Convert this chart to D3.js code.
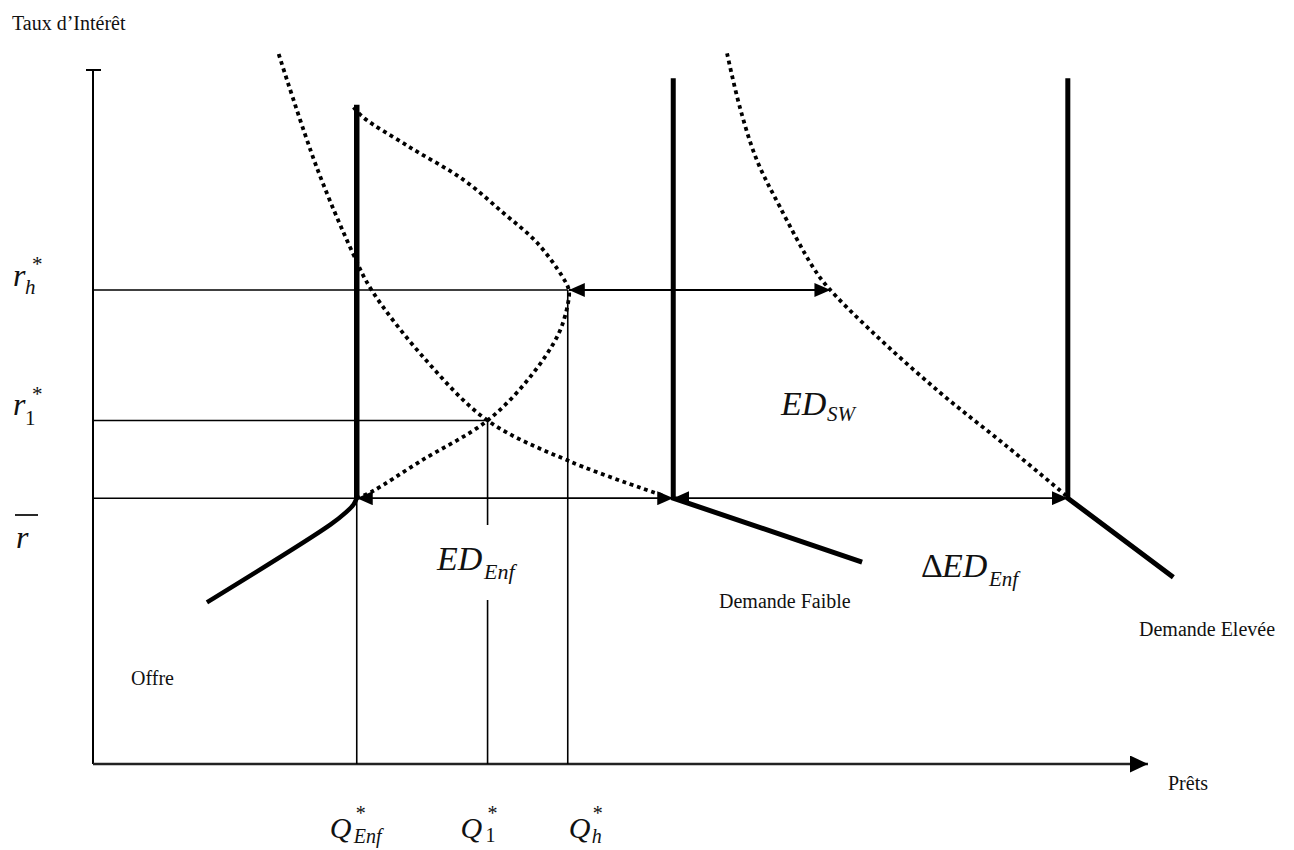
<!DOCTYPE html>
<html>
<head>
<meta charset="utf-8">
<script src="https://cdn.jsdelivr.net/npm/d3@7"></script>
<style>
  html, body { margin: 0; padding: 0; background: #fff; }
  svg { display: block; }
  .lbl { font-family: "Liberation Serif", "Times New Roman", serif; fill: #111; }
  .math { font-family: "Liberation Serif", "Times New Roman", serif; font-style: italic; fill: #111; }
</style>
</head>
<body>
<svg id="chart" width="1294" height="850"></svg>
<script>
// ---- Data (x = loans 0..100, y = interest rate 0..100) ----
const rateLevels = [38.3, 49.5, 68.3];          // r̄, r1*, rh*
const rateLevelEnds = [25.0, 37.4, 45.0];       // where each horizontal guide stops
const qtyLevels = [25.0, 37.4, 45.0];           // Q*Enf, Q1*, Qh*
const qtyLevelTops = [38.3, 49.5, 68.3];        // where each vertical guide starts
const supplyOffre = [[10.8, 23.3], [22.5, 34.5], [24.0, 36.3], [24.7, 37.4], [25.0, 38.3]];
const supplyVertical = [[25.0, 38.3], [25.0, 95.0]];
const demandLow = [[55.0, 98.8], [55.0, 38.3], [72.9, 29.1]];
const demandHigh = [[92.4, 98.8], [92.4, 38.3], [102.4, 26.9]];
const curveLowDemand = [[17.6, 102.3], [21.2, 86.0], [24.6, 73.7], [26.4, 68.3], [31.5, 58.3],
                        [37.4, 49.5], [45.2, 43.6], [54.2, 38.6]];
const curveBackward = [[25.0, 38.3], [26.5, 39.3], [31.0, 43.6], [37.4, 49.5], [41.4, 55.7],
                       [44.1, 61.9], [45.0, 66.2], [45.1, 68.3], [44.5, 70.2], [42.1, 75.1],
                       [38.9, 79.4], [35.1, 84.2], [30.0, 88.9], [25.6, 93.2], [24.5, 95.0]];
const curveHighDemand = [[60.1, 102.4], [61.3, 94.7], [62.9, 87.1], [65.1, 80.3], [68.2, 71.7],
                         [69.6, 68.8], [73.9, 62.2], [80.3, 53.5], [86.6, 45.8], [92.3, 38.6]];
// double-headed arrows: [x0, x1, y]
const arrows = [[45.1, 69.9, 68.3], [25.0, 55.0, 38.3], [55.0, 92.4, 38.3]];
const axisTitles = ["Taux d\u2019Int\u00e9r\u00eat", "Pr\u00eats"];
const curveNames = ["Offre", "Demande Faible", "Demande Elev\u00e9e"];

// ---- Scales ----
const x = d3.scaleLinear().domain([0, 100]).range([93, 1148]);
const y = d3.scaleLinear().domain([0, 100]).range([764, 70]);
const svg = d3.select("#chart");

const defs = svg.append("defs");
defs.append("marker").attr("id", "ah")
  .attr("markerUnits", "userSpaceOnUse")
  .attr("viewBox", "0 0 16 14").attr("refX", 16).attr("refY", 7)
  .attr("markerWidth", 16).attr("markerHeight", 14)
  .attr("orient", "auto-start-reverse")
  .append("path").attr("d", "M0,0 L16,7 L0,14 Z").attr("fill", "#000");
defs.append("marker").attr("id", "axh")
  .attr("markerUnits", "userSpaceOnUse")
  .attr("viewBox", "0 0 18 17").attr("refX", 18).attr("refY", 8.5)
  .attr("markerWidth", 18).attr("markerHeight", 17)
  .attr("orient", "auto")
  .append("path").attr("d", "M0,0 L18,8.5 L0,17 Z").attr("fill", "#000");

const line = d3.line().x(d => x(d[0])).y(d => y(d[1]));
const smooth = d3.line().x(d => x(d[0])).y(d => y(d[1])).curve(d3.curveCatmullRom.alpha(0.5));

// ---- Axes ----
svg.append("line").attr("x1", x(0)).attr("x2", x(0)).attr("y1", y(100)).attr("y2", y(0))
  .attr("stroke", "#000").attr("stroke-width", 2);
svg.append("line").attr("x1", x(0) - 7).attr("x2", x(0) + 8).attr("y1", y(100)).attr("y2", y(100))
  .attr("stroke", "#000").attr("stroke-width", 2);
svg.append("line").attr("x1", x(0)).attr("x2", x(100)).attr("y1", y(0)).attr("y2", y(0))
  .attr("stroke", "#222").attr("stroke-width", 2.5).attr("marker-end", "url(#axh)");

// ---- Thin guides ----
rateLevels.forEach((r, i) => {
  svg.append("line").attr("x1", x(0)).attr("x2", x(rateLevelEnds[i]))
    .attr("y1", y(r)).attr("y2", y(r)).attr("stroke", "#000").attr("stroke-width", 1.6);
});
qtyLevels.forEach((q, i) => {
  if (i === 1) {
    // guide broken around the ED_Enf label
    svg.append("line").attr("x1", x(q)).attr("x2", x(q)).attr("y1", y(qtyLevelTops[i])).attr("y2", 525)
      .attr("stroke", "#000").attr("stroke-width", 1.6);
    svg.append("line").attr("x1", x(q)).attr("x2", x(q)).attr("y1", 600).attr("y2", y(0))
      .attr("stroke", "#000").attr("stroke-width", 1.6);
  } else {
    svg.append("line").attr("x1", x(q)).attr("x2", x(q)).attr("y1", y(qtyLevelTops[i])).attr("y2", y(0))
      .attr("stroke", "#000").attr("stroke-width", 1.6);
  }
});

// ---- Dotted curves ----
[curveLowDemand, curveBackward, curveHighDemand].forEach(c => {
  svg.append("path").attr("d", smooth(c)).attr("fill", "none")
    .attr("stroke", "#000").attr("stroke-width", 3.8).attr("stroke-dasharray", "3.8 3.8");
});

// ---- Thick lines ----
svg.append("path").attr("d", smooth(supplyOffre)).attr("fill", "none")
  .attr("stroke", "#000").attr("stroke-width", 4.5).attr("stroke-linejoin", "round");
svg.append("path").attr("d", line(supplyVertical)).attr("fill", "none")
  .attr("stroke", "#000").attr("stroke-width", 5.5);
[demandLow, demandHigh].forEach(d => {
  svg.append("path").attr("d", line(d)).attr("fill", "none")
    .attr("stroke", "#000").attr("stroke-width", 5).attr("stroke-linejoin", "miter");
});

// ---- Arrows ----
arrows.forEach(a => {
  svg.append("line").attr("x1", x(a[0])).attr("x2", x(a[1])).attr("y1", y(a[2])).attr("y2", y(a[2]))
    .attr("stroke", "#000").attr("stroke-width", 1.8)
    .attr("marker-start", "url(#ah)").attr("marker-end", "url(#ah)");
});

// ---- Text ----
svg.append("text").attr("class", "lbl").attr("x", 12).attr("y", 30).attr("font-size", 20).text(axisTitles[0]);
svg.append("text").attr("class", "lbl").attr("x", 1168).attr("y", 790).attr("font-size", 20).text(axisTitles[1]);
svg.append("text").attr("class", "lbl").attr("x", 131).attr("y", 685).attr("font-size", 20).text(curveNames[0]);
svg.append("text").attr("class", "lbl").attr("x", 719).attr("y", 608).attr("font-size", 20).text(curveNames[1]);
svg.append("text").attr("class", "lbl").attr("x", 1139).attr("y", 636).attr("font-size", 20).text(curveNames[2]);

function mathLabel(px, py, main, sub, sup, opts = {}) {
  const g = svg.append("g");
  const fs = opts.fs || 32, sfs = opts.sfs || 21;
  g.append("text").attr("class", "math").attr("x", px).attr("y", py).attr("font-size", fs).text(main);
  if (sub) g.append("text").attr("class", opts.subUpright ? "lbl" : "math")
    .attr("x", px + opts.subDx).attr("y", py + opts.subDy).attr("font-size", sfs).text(sub);
  if (sup) g.append("text").attr("class", "lbl")
    .attr("x", px + opts.supDx).attr("y", py + opts.supDy).attr("font-size", sfs).text(sup);
}

// rate labels
mathLabel(13, y(rateLevels[2]) - 4, "r", "h", "*", { subDx: 12, subDy: 8, supDx: 19, supDy: -15 });
mathLabel(13, y(rateLevels[1]) - 5, "r", "1", "*", { subDx: 12, subDy: 10, supDx: 19, supDy: -14, subUpright: true });
mathLabel(16, 548, "r", null, null, {});
svg.append("line").attr("x1", 15).attr("x2", 38).attr("y1", 515).attr("y2", 515)
  .attr("stroke", "#111").attr("stroke-width", 1.8);

// quantity labels
mathLabel(x(qtyLevels[0]) - 27, 838, "Q", "Enf", "*", { fs: 30, sfs: 20, subDx: 24, subDy: 5, supDx: 26, supDy: -18 });
mathLabel(x(qtyLevels[1]) - 27, 838, "Q", "1", "*", { fs: 30, sfs: 20, subDx: 25, subDy: 4, supDx: 27, supDy: -18, subUpright: true });
mathLabel(x(qtyLevels[2]) + 1, 838, "Q", "h", "*", { fs: 30, sfs: 20, subDx: 23, subDy: 5, supDx: 24, supDy: -18 });

// excess demand labels
mathLabel(437, 570, "ED", "Enf", null, { fs: 34, sfs: 22, subDx: 47, subDy: 9 });
svg.append("text").attr("class", "lbl").attr("x", 921).attr("y", 577).attr("font-size", 34).text("\u0394");
mathLabel(942, 577, "ED", "Enf", null, { fs: 34, sfs: 21, subDx: 47, subDy: 9 });
mathLabel(781, 415, "ED", "SW", null, { fs: 34, sfs: 21, subDx: 46, subDy: 6 });
</script>
</body>
</html>
